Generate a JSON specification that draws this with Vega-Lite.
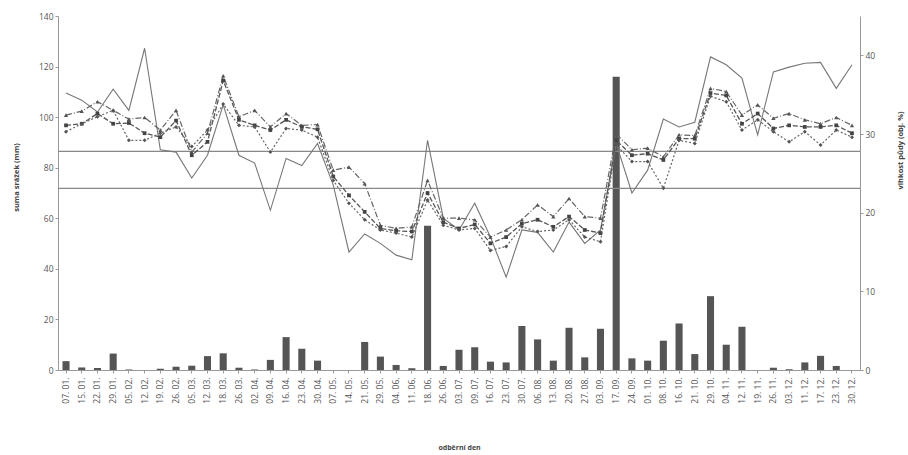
{
  "$schema": "https://vega.github.io/schema/vega-lite/v6.json",
  "width": 802,
  "height": 354,
  "autosize": {"type": "none"},
  "padding": {"left": 58, "top": 16, "right": 48, "bottom": 85},
  "background": "white",
  "config": {
    "view": {"stroke": null},
    "font": "Open Sans",
    "axis": {"labelFont": "Open Sans", "labelFontSize": 8.5, "labelColor": "#555", "titleFont": "Open Sans", "titleFontSize": 7.5, "titleFontWeight": "bold", "titleColor": "#444", "domainColor": "#999", "tickColor": "#999", "tickSize": 3, "grid": false}
  },
  "datasets": {
    "main": [
      {"den": "07. 01.", "srazky": 3.5, "s1": 35.2, "s2": 32.4, "s3": 31.1, "s4": 30.3},
      {"den": "15. 01.", "srazky": 1.0, "s1": 34.3, "s2": 32.9, "s3": 31.3, "s4": 31.3},
      {"den": "22. 01.", "srazky": 0.8, "s1": 32.8, "s2": 34.1, "s3": 32.6, "s4": 32.2},
      {"den": "29. 01.", "srazky": 6.5, "s1": 35.7, "s2": 33.0, "s3": 31.3, "s4": 33.0},
      {"den": "05. 02.", "srazky": 0.2, "s1": 33.0, "s2": 31.9, "s3": 31.4, "s4": 29.2},
      {"den": "12. 02.", "srazky": 0.0, "s1": 40.9, "s2": 32.1, "s3": 30.1, "s4": 29.2},
      {"den": "19. 02.", "srazky": 0.5, "s1": 28.0, "s2": 30.5, "s3": 29.6, "s4": 30.1},
      {"den": "26. 02.", "srazky": 1.3, "s1": 27.7, "s2": 33.0, "s3": 31.7, "s4": 30.9},
      {"den": "05. 03.", "srazky": 1.7, "s1": 24.4, "s2": 27.7, "s3": 27.3, "s4": 28.4},
      {"den": "12. 03.", "srazky": 5.5, "s1": 27.3, "s2": 30.1, "s3": 29.0, "s4": 30.5},
      {"den": "18. 03.", "srazky": 6.6, "s1": 33.7, "s2": 37.4, "s3": 36.8, "s4": 33.8},
      {"den": "26. 03.", "srazky": 0.9, "s1": 27.3, "s2": 32.2, "s3": 31.8, "s4": 31.1},
      {"den": "02. 04.", "srazky": 0.2, "s1": 26.3, "s2": 33.0, "s3": 31.1, "s4": 30.9},
      {"den": "09. 04.", "srazky": 4.0, "s1": 20.3, "s2": 30.9, "s3": 30.5, "s4": 27.7},
      {"den": "16. 04.", "srazky": 13.0, "s1": 26.9, "s2": 32.6, "s3": 31.8, "s4": 30.7},
      {"den": "23. 04.", "srazky": 8.4, "s1": 26.0, "s2": 31.1, "s3": 30.9, "s4": 30.5},
      {"den": "30. 04.", "srazky": 3.7, "s1": 28.8, "s2": 31.2, "s3": 30.6, "s4": 29.6},
      {"den": "07. 05.", "srazky": 0.0, "s1": 23.5, "s2": 25.4, "s3": 24.6, "s4": 24.1},
      {"den": "14. 05.", "srazky": 0.0, "s1": 15.0, "s2": 25.8, "s3": 22.2, "s4": 21.2},
      {"den": "21. 05.", "srazky": 11.1, "s1": 17.3, "s2": 23.7, "s3": 20.1, "s4": 19.1},
      {"den": "29. 05.", "srazky": 5.3, "s1": 16.1, "s2": 18.4, "s3": 18.0, "s4": 17.8},
      {"den": "04. 06.", "srazky": 2.0, "s1": 14.6, "s2": 18.0, "s3": 17.7, "s4": 17.4},
      {"den": "11. 06.", "srazky": 0.7, "s1": 14.0, "s2": 18.2, "s3": 17.6, "s4": 16.9},
      {"den": "18. 06.", "srazky": 57.0, "s1": 29.2, "s2": 24.1, "s3": 22.5, "s4": 21.6},
      {"den": "26. 06.", "srazky": 1.6, "s1": 19.3, "s2": 19.3, "s3": 18.8, "s4": 18.4},
      {"den": "03. 07.", "srazky": 8.0, "s1": 17.8, "s2": 19.3, "s3": 18.0, "s4": 17.8},
      {"den": "09. 07.", "srazky": 9.0, "s1": 21.2, "s2": 19.1, "s3": 18.5, "s4": 18.0},
      {"den": "16. 07.", "srazky": 3.3, "s1": 16.9, "s2": 16.9, "s3": 16.1, "s4": 15.2},
      {"den": "23. 07.", "srazky": 3.0, "s1": 11.8, "s2": 17.8, "s3": 16.9, "s4": 15.7},
      {"den": "30. 07.", "srazky": 17.4, "s1": 17.8, "s2": 19.1, "s3": 18.6, "s4": 18.2},
      {"den": "06. 08.", "srazky": 12.1, "s1": 17.5, "s2": 21.0, "s3": 19.1, "s4": 17.6},
      {"den": "13. 08.", "srazky": 3.7, "s1": 15.0, "s2": 19.5, "s3": 18.2, "s4": 17.8},
      {"den": "20. 08.", "srazky": 16.7, "s1": 18.8, "s2": 21.8, "s3": 19.5, "s4": 19.1},
      {"den": "27. 08.", "srazky": 5.0, "s1": 16.1, "s2": 19.5, "s3": 17.8, "s4": 16.9},
      {"den": "03. 09.", "srazky": 16.3, "s1": 17.8, "s2": 19.3, "s3": 17.4, "s4": 16.3},
      {"den": "17. 09.", "srazky": 116.0, "s1": 28.8, "s2": 30.0, "s3": 29.2, "s4": 28.6},
      {"den": "24. 09.", "srazky": 4.6, "s1": 22.5, "s2": 28.0, "s3": 27.3, "s4": 26.5},
      {"den": "01. 10.", "srazky": 3.7, "s1": 25.4, "s2": 28.2, "s3": 27.5, "s4": 26.5},
      {"den": "08. 10.", "srazky": 11.6, "s1": 31.9, "s2": 27.1, "s3": 26.7, "s4": 23.1},
      {"den": "16. 10.", "srazky": 18.4, "s1": 30.9, "s2": 29.9, "s3": 29.4, "s4": 29.2},
      {"den": "21. 10.", "srazky": 6.3, "s1": 31.5, "s2": 29.8, "s3": 29.4, "s4": 28.8},
      {"den": "29. 10.", "srazky": 29.2, "s1": 39.8, "s2": 35.8, "s3": 35.2, "s4": 34.8},
      {"den": "04. 11.", "srazky": 10.0, "s1": 38.8, "s2": 35.4, "s3": 34.9, "s4": 34.1},
      {"den": "12. 11.", "srazky": 17.1, "s1": 37.1, "s2": 32.4, "s3": 31.3, "s4": 30.5},
      {"den": "19. 11.", "srazky": 0.0, "s1": 29.9, "s2": 33.7, "s3": 32.6, "s4": 31.8},
      {"den": "26. 11.", "srazky": 0.9, "s1": 37.9, "s2": 32.0, "s3": 30.7, "s4": 30.3},
      {"den": "03. 12.", "srazky": 0.3, "s1": 38.5, "s2": 32.6, "s3": 31.1, "s4": 29.0},
      {"den": "11. 12.", "srazky": 3.0, "s1": 39.0, "s2": 31.8, "s3": 30.9, "s4": 30.3},
      {"den": "17. 12.", "srazky": 5.6, "s1": 39.1, "s2": 31.3, "s3": 30.9, "s4": 28.6},
      {"den": "23. 12.", "srazky": 1.6, "s1": 35.8, "s2": 32.1, "s3": 31.1, "s4": 30.5},
      {"den": "30. 12.", "srazky": 0.0, "s1": 38.8, "s2": 31.1, "s3": 30.1, "s4": 29.6}
    ],
    "refs": [{"v": 27.8}, {"v": 23.1}]
  },
  "data": {"name": "main"},
  "encoding": {
    "x": {"field": "den", "type": "ordinal", "sort": null, "title": "odběrní den",
      "scale": {"paddingInner": 0.55, "paddingOuter": 0.285},
      "axis": {"labelAngle": 270, "labelPadding": 4, "titlePadding": 40, "ticks": true, "domainColor": "#999", "titleFontSize": 7}}
  },
  "layer": [
    {
      "mark": {"type": "bar", "color": "#555"},
      "encoding": {
        "y": {"field": "srazky", "type": "quantitative", "title": "suma srážek (mm)",
          "scale": {"domain": [0, 140]},
          "axis": {"orient": "left", "values": [0, 20, 40, 60, 80, 100, 120, 140], "titlePadding": 18, "titleY": 161}}
      }
    },
    {
      "layer": [
        {
          "data": {"name": "refs"},
          "mark": {"type": "rule", "color": "#888", "strokeWidth": 1.3},
          "encoding": {"x": null, "y": {"field": "v", "type": "quantitative", "title": "vlhkost půdy (obj. %)", "scale": {"domain": [0, 45]}, "axis": {"orient": "right", "values": [0, 5, 10, 15, 20, 25, 30, 35, 40, 45], "titlePadding": 30, "titleAngle": 270, "titleY": 134}}}
        },
        {
          "mark": {"type": "line", "color": "#777", "strokeWidth": 1.1},
          "encoding": {"y": {"field": "s1", "type": "quantitative", "title": "vlhkost půdy (obj. %)"}}
        },
        {
          "mark": {"type": "line", "color": "#666", "strokeWidth": 1.2, "strokeDash": [6, 2, 1, 2], "point": {"shape": "triangle-up", "size": 18, "color": "#555", "filled": true}},
          "encoding": {"y": {"field": "s2", "type": "quantitative", "title": "vlhkost půdy (obj. %)"}}
        },
        {
          "mark": {"type": "line", "color": "#555", "strokeWidth": 1.3, "strokeDash": [5, 2], "point": {"shape": "square", "size": 14, "color": "#444", "filled": true}},
          "encoding": {"y": {"field": "s3", "type": "quantitative", "title": "vlhkost půdy (obj. %)"}}
        },
        {
          "mark": {"type": "line", "color": "#666", "strokeWidth": 1.2, "strokeDash": [2, 2], "point": {"shape": "diamond", "size": 16, "color": "#555", "filled": true}},
          "encoding": {"y": {"field": "s4", "type": "quantitative", "title": "vlhkost půdy (obj. %)"}}
        }
      ]
    }
  ],
  "resolve": {"scale": {"y": "independent"}}
}
